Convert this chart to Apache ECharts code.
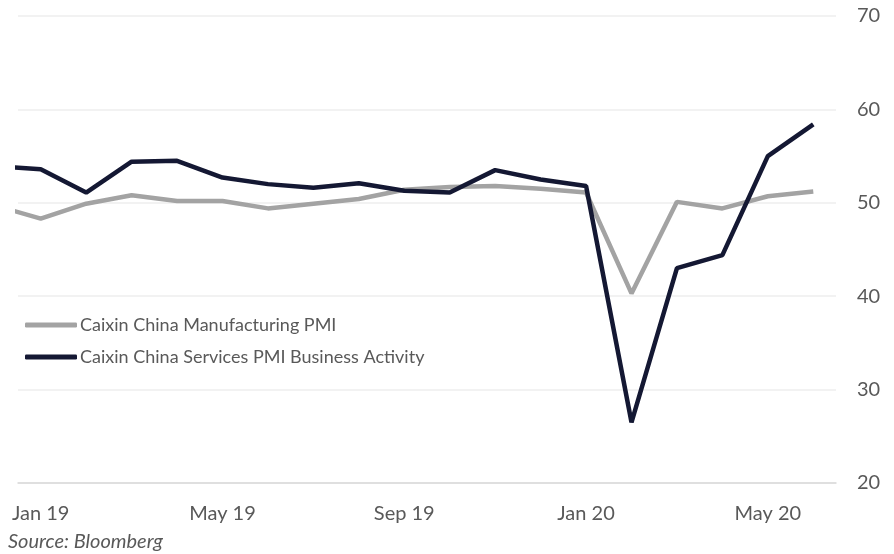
<!DOCTYPE html>
<html>
<head>
<meta charset="utf-8">
<script src="https://cdn.jsdelivr.net/npm/echarts@6/dist/echarts.min.js"></script>
<style>
html,body{margin:0;padding:0;background:#fff;}
#chart{width:894px;height:554px;}
</style>
</head>
<body>
<div id="chart"></div>
<script>
// Month categories shown on the axis (Jan 2019 – Jun 2020)
const months = ['Jan 19','Feb 19','Mar 19','Apr 19','May 19','Jun 19','Jul 19','Aug 19','Sep 19','Oct 19','Nov 19','Dec 19',
                'Jan 20','Feb 20','Mar 20','Apr 20','May 20','Jun 20'];
// Month index of each observation (Dec 2018 = -1, plotted mid-month)
const monthIndex = [-1,0,1,2,3,4,5,6,7,8,9,10,11,12,13,14,15,16,17];
const manufacturing = [49.7,48.3,49.9,50.8,50.2,50.2,49.4,49.9,50.4,51.4,51.7,51.8,51.5,51.1,40.3,50.1,49.4,50.7,51.2];
const services      = [53.9,53.6,51.1,54.4,54.5,52.7,52.0,51.6,52.1,51.3,51.1,53.5,52.5,51.8,26.5,43.0,44.4,55.0,58.4];
const seriesNames = ['Caixin China Manufacturing PMI','Caixin China Services PMI Business Activity'];
const yTicks = [20,30,40,50,60,70];

const FONT = 'Lato, "Open Sans", sans-serif';
const toPts = arr => arr.map((v,i)=>[monthIndex[i]+0.5, v]);

const chart = echarts.init(document.getElementById('chart'));
chart.setOption({
  animation:false,
  textStyle:{fontFamily:FONT},
  grid:{left:18,right:58,top:16,bottom:71,containLabel:false,outerBoundsMode:'none'},
  legend:{
    orient:'vertical', left:20, top:311, itemGap:14,
    itemWidth:52, itemHeight:5,
    textStyle:{fontFamily:FONT,fontSize:18,color:'#595959',padding:[0,0,0,-2]},
    data:[{name:seriesNames[0],icon:'roundRect'},{name:seriesNames[1],icon:'roundRect'}]
  },
  xAxis:[{
    type:'category', data:months, boundaryGap:true,
    axisLine:{lineStyle:{color:'#d9d9d9',width:1.5}},
    axisTick:{interval:3,length:5,lineStyle:{color:'#d9d9d9',width:1.5}},
    axisLabel:{interval:3,color:'#595959',fontSize:20,margin:21,fontFamily:FONT},
    splitLine:{show:false}
  },{
    type:'value', min:0, max:months.length, show:false
  }],
  yAxis:{
    type:'value', position:'right', min:yTicks[0], max:yTicks[yTicks.length-1], interval:10,
    axisLine:{show:false}, axisTick:{show:false},
    axisLabel:{color:'#595959',fontSize:20,margin:21,fontFamily:FONT},
    splitLine:{lineStyle:{color:'#eeeeee',width:1.5}}
  },
  series:[{
    name:seriesNames[0], type:'line', xAxisIndex:1, data:toPts(manufacturing),
    showSymbol:false, symbol:'none', clip:true,
    lineStyle:{color:'#a3a3a3',width:4.5}, itemStyle:{color:'#a3a3a3'}, z:2
  },{
    name:seriesNames[1], type:'line', xAxisIndex:1, data:toPts(services),
    showSymbol:false, symbol:'none', clip:true,
    lineStyle:{color:'#141833',width:4.5}, itemStyle:{color:'#141833'}, z:3
  }],
  graphic:[{
    type:'text', left:8, top:532,
    style:{text:'Source: Bloomberg',fontFamily:FONT,fontSize:20,fontStyle:'italic',fill:'#595959'}
  }]
});
</script>
</body>
</html>
